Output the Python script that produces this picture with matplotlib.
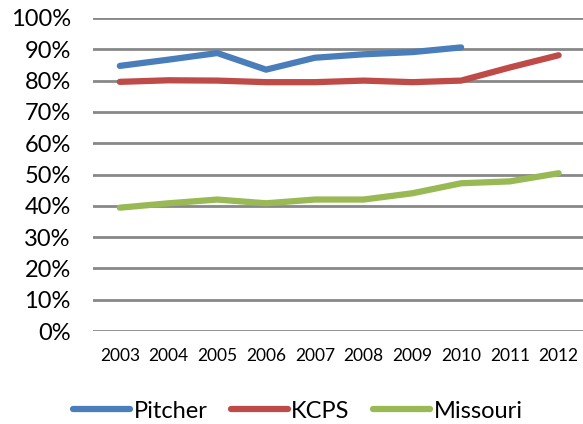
import matplotlib
matplotlib.use("Agg")
import matplotlib.pyplot as plt
from matplotlib.ticker import FuncFormatter

years = ["2003", "2004", "2005", "2006", "2007", "2008", "2009", "2010", "2011", "2012"]
pitcher = [84.7, 86.7, 88.8, 83.5, 87.3, 88.4, 89.1, 90.6, None, None]
kcps = [79.6, 80.1, 80.0, 79.5, 79.5, 80.0, 79.5, 80.0, 84.2, 88.1]
missouri = [39.4, 40.8, 42.0, 40.8, 42.0, 42.0, 44.0, 47.2, 47.8, 50.4]

plt.rcParams['font.family'] = ['Lato', 'DejaVu Sans']

fig = plt.figure(figsize=(5.83, 4.24), dpi=100)
ax = fig.add_axes([93/583, 1-331/424, 1-93/583, (331-18)/424])

x = list(range(len(years)))
pv = [v if v is not None else float('nan') for v in pitcher]
ax.plot(x, pv, color="#4a7ebb", lw=4.5, label="Pitcher", solid_capstyle="round")
ax.plot(x, kcps, color="#be4b48", lw=4.5, label="KCPS", solid_capstyle="round")
ax.plot(x, missouri, color="#98b954", lw=4.5, label="Missouri", solid_capstyle="round")

ax.set_ylim(0, 100)
ax.set_xlim(-0.55, len(years)-1+0.5)
ax.set_yticks(range(0, 101, 10))
ax.yaxis.set_major_formatter(FuncFormatter(lambda v, p: f"{int(v)}%"))
ax.set_xticks(x)
ax.set_xticklabels(years)
ax.grid(axis='y', color="#888888", lw=2)
ax.set_axisbelow(True)
for s in ax.spines.values():
    s.set_visible(False)
ax.tick_params(axis='both', length=0)
ax.tick_params(axis='y', labelsize=17, pad=16)
ax.tick_params(axis='x', labelsize=12.5, pad=12)

fig.legend(loc="center", bbox_to_anchor=(298/583, 1-411/424), ncol=3, frameon=False,
           fontsize=17, handlelength=2.4, columnspacing=1.0, handletextpad=0.15)

fig.savefig("out.png", dpi=100)
